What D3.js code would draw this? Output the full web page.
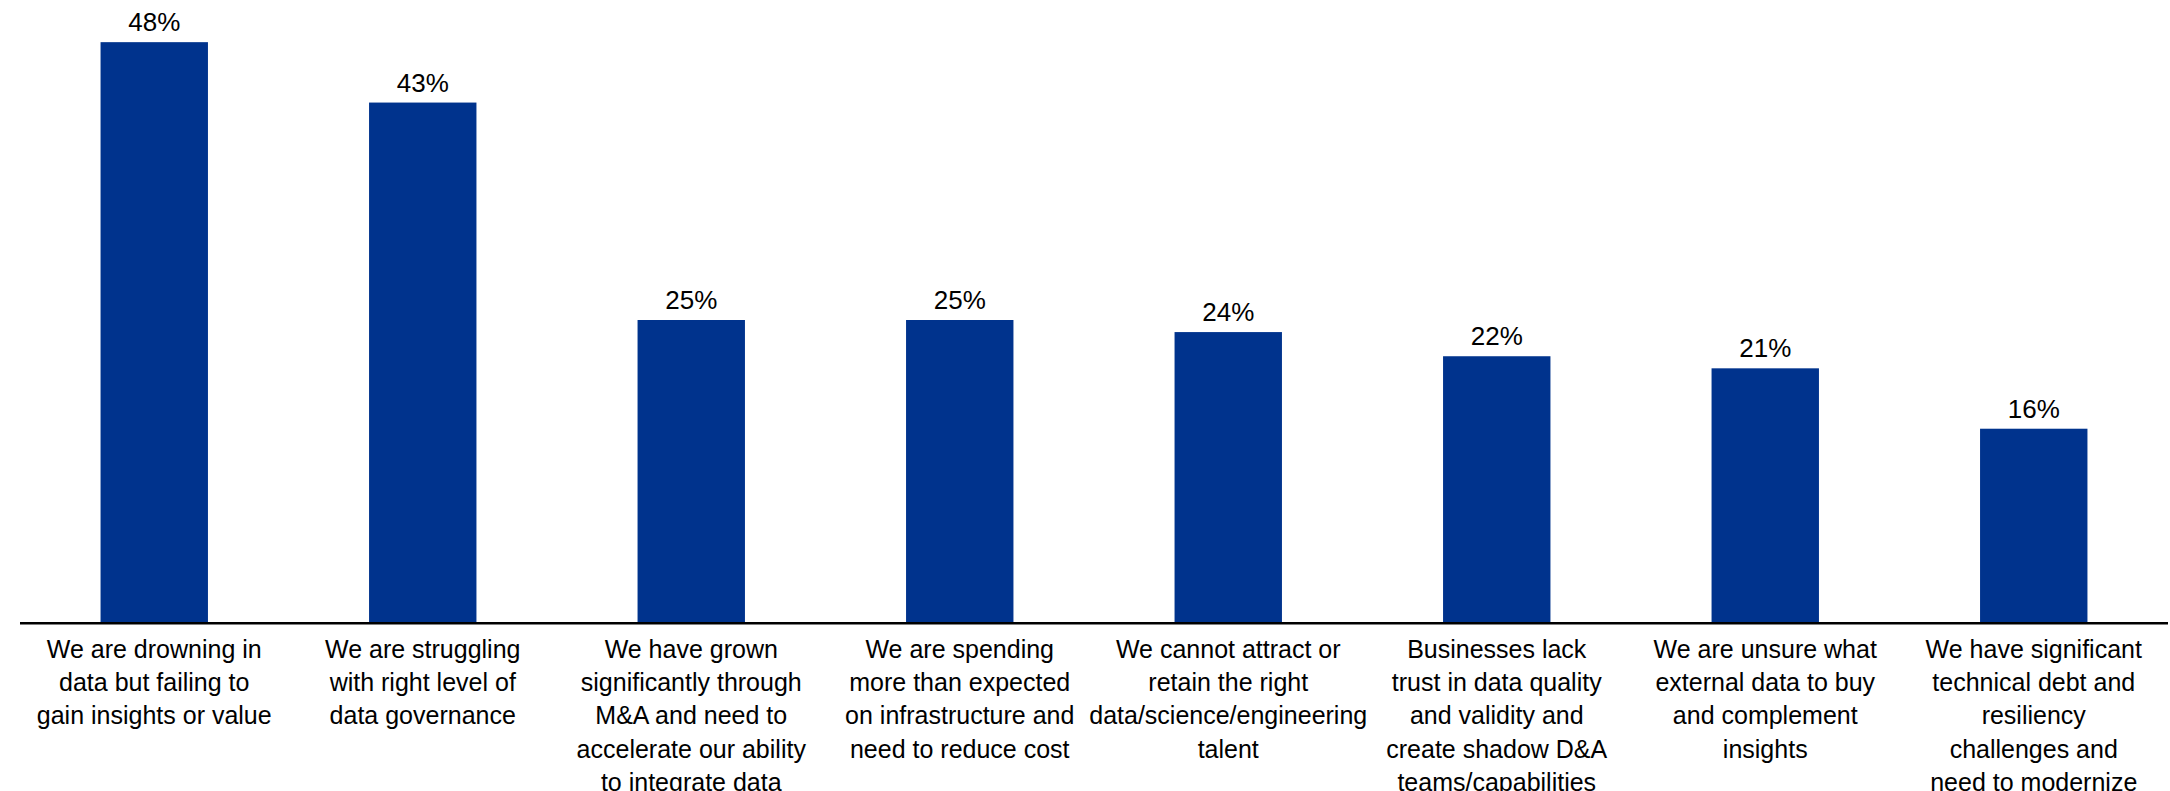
<!DOCTYPE html>
<html>
<head>
<meta charset="utf-8">
<script src="https://cdn.jsdelivr.net/npm/d3@7"></script>
<style>
  html, body { margin: 0; padding: 0; background: #fff; }
  svg { display: block; }
  text { font-family: "Liberation Sans", Arial, sans-serif; fill: #000; }
</style>
</head>
<body>
<svg id="chart" width="2170" height="791"></svg>
<script>
// Survey responses: share of respondents selecting each data & analytics challenge
const categories = [
  "We are drowning in data but failing to gain insights or value",
  "We are struggling with right level of data governance",
  "We have grown significantly through M&A and need to accelerate our ability to integrate data",
  "We are spending more than expected on infrastructure and need to reduce cost",
  "We cannot attract or retain the right data/science/engineering talent",
  "Businesses lack trust in data quality and validity and create shadow D&A teams/capabilities",
  "We are unsure what external data to buy and complement insights",
  "We have significant technical debt and resiliency challenges and need to modernize"
];
const values = [48, 43, 25, 25, 24, 22, 21, 16];

// Wrapped category label lines
const labelLines = [
  ["We are drowning in", "data but failing to", "gain insights or value"],
  ["We are struggling", "with right level of", "data governance"],
  ["We have grown", "significantly through", "M&A and need to", "accelerate our ability", "to integrate data"],
  ["We are spending", "more than expected", "on infrastructure and", "need to reduce cost"],
  ["We cannot attract or", "retain the right", "data/science/engineering", "talent"],
  ["Businesses lack", "trust in data quality", "and validity and", "create shadow D&A", "teams/capabilities"],
  ["We are unsure what", "external data to buy", "and complement", "insights"],
  ["We have significant", "technical debt and", "resiliency", "challenges and", "need to modernize"]
];

const svg = d3.select("#chart");
const left = 20, right = 2168, baseY = 622;

const x = d3.scaleBand()
  .domain(categories)
  .range([left, right])
  .paddingInner(0.6)
  .paddingOuter(0.3);

const y = d3.scaleLinear()
  .domain([0, 50])
  .range([baseY, 18]);

const data = categories.map((c, i) => ({ cat: c, value: values[i], lines: labelLines[i] }));

// Bars
svg.append("g").selectAll("rect")
  .data(data)
  .join("rect")
  .attr("x", d => x(d.cat))
  .attr("y", d => y(d.value))
  .attr("width", x.bandwidth())
  .attr("height", d => y(0) - y(d.value))
  .attr("fill", "#00338D");

// Value labels
svg.append("g").selectAll("text")
  .data(data)
  .join("text")
  .attr("x", d => x(d.cat) + x.bandwidth() / 2)
  .attr("y", d => y(d.value) - 11)
  .attr("text-anchor", "middle")
  .attr("font-size", 26)
  .text(d => d.value + "%");

// Category axis baseline
svg.append("line")
  .attr("x1", left)
  .attr("x2", right)
  .attr("y1", baseY + 1.2)
  .attr("y2", baseY + 1.2)
  .attr("stroke", "#000")
  .attr("stroke-width", 2.5);

// Category labels
const lab = svg.append("g").selectAll("text")
  .data(data)
  .join("text")
  .attr("text-anchor", "middle")
  .attr("font-size", 25)
  .attr("x", d => x(d.cat) + x.bandwidth() / 2)
  .attr("y", 658);

lab.selectAll("tspan")
  .data(d => d.lines.map(l => ({ l, cx: x(d.cat) + x.bandwidth() / 2 })))
  .join("tspan")
  .attr("x", t => t.cx)
  .attr("dy", (t, i) => i === 0 ? 0 : 33.2)
  .text(t => t.l);
</script>
</body>
</html>
